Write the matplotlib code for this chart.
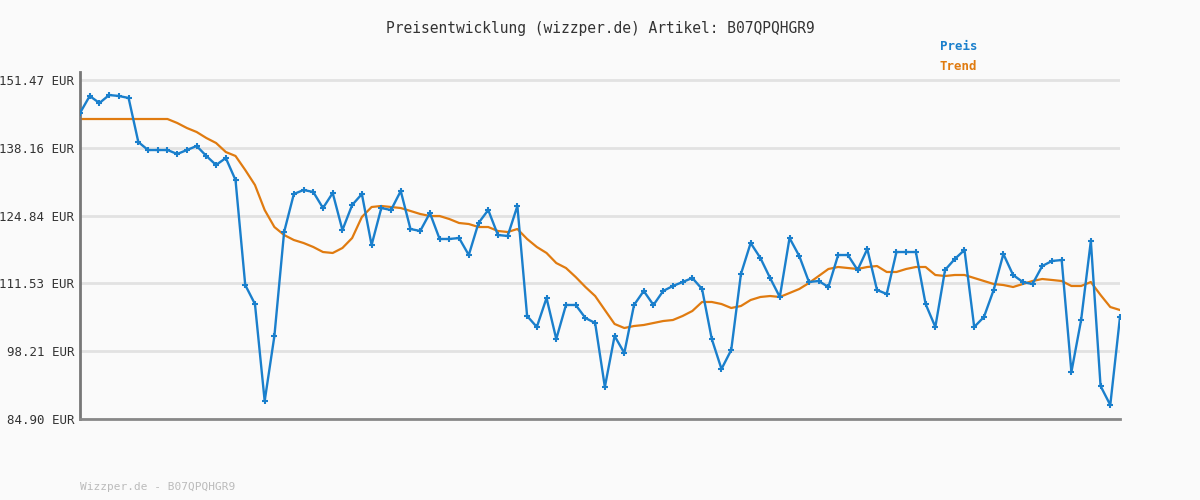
import matplotlib
matplotlib.use("Agg")
import matplotlib.pyplot as plt
import numpy as np

price_px = [113,96,103,95,96,98,142,150,150,150,154,150,146,156,165,158,180,285,304,401,336,232,194,190,192,208,193,230,205,194,245,208,210,191,229,231,
            213,239,239,238,255,223,210,235,236,206,316,327,298,339,305,305,318,323,387,336,353,305,291,305,291,286,282,278,289,339,369,350,274,243,258,
            278,297,238,256,282,281,287,255,255,270,249,290,294,252,252,252,304,327,270,259,250,327,317,290,254,275,282,284,266,261,260,372,320,241,386,405,317]
trend_px = [119]*10 + [123,128,132,138,143,152,156,170,185,210,227,235,240,243,247,252,253,248,238,217,207,206,207,208,211,214,216,
            216,219,223,224,227,227,231,232,229,239,247,253,263,268,277,287,296,310,324,328,326,325,323,321,320,316,311,302,302,304,308,306,300,297,296,297,
            293,289,283,276,269,267,268,269,267,266,272,272,269,267,267,275,276,275,275,278,281,284,285,287,284,281,279,280,281,286,286,282,295,307,310]
scale = (151.47 - 84.90) / 339.0
price = [round(151.47 - (p - 80) * scale, 2) for p in price_px]
trend = [round(151.47 - (p - 80) * scale, 2) for p in trend_px]
yticks = [84.90, 98.21, 111.53, 124.84, 138.16, 151.47]
title = "Preisentwicklung (wizzper.de) Artikel: B07QPQHGR9"

plt.rcParams['font.family'] = ['DejaVu Sans Mono']
fig = plt.figure(figsize=(12, 5), dpi=100, facecolor='#fafafa')
ax = fig.add_axes([80/1200, 1-419/500, 1040/1200, (419-72)/500])
ax.set_facecolor('#fafafa')
x = np.arange(len(price))
ax.plot(x, trend, color='#e07b10', lw=1.6, zorder=2)
ax.plot(x, price, color='#1a7fcc', lw=1.7, marker='+', ms=4, mew=1.5, zorder=3)
ax.set_xlim(0, len(price) - 1)
ax.set_ylim(84.90, 151.47 + 8 * scale)
ax.set_yticks(yticks)
ax.set_yticklabels([f"{v:.2f} EUR" for v in yticks], fontsize=9, color='#333333')
ax.set_xticks([])
ax.grid(axis='y', color='#e2e2e2', lw=2)
ax.set_axisbelow(True)
ax.tick_params(axis='y', length=0, pad=4)
for s in ['top', 'right']:
    ax.spines[s].set_visible(False)
ax.spines['left'].set_color('#777777')
ax.spines['left'].set_linewidth(2)
ax.spines['bottom'].set_color('#888888')
ax.spines['bottom'].set_linewidth(2)
fig.text(0.5, 1-28/500, title, ha='center', va='center', fontsize=10.5, color='#333333')
fig.text(940/1200, 1-46/500, "Preis", ha='left', va='center', fontsize=9, color='#1a7fcc', weight='bold')
fig.text(940/1200, 1-67/500, "Trend", ha='left', va='center', fontsize=9, color='#e07b10', weight='bold')
fig.text(80/1200, 1-487/500, "Wizzper.de - B07QPQHGR9", ha='left', va='center', fontsize=8, color='#bbbbbb')
fig.savefig("out.png", dpi=100, facecolor=fig.get_facecolor())
